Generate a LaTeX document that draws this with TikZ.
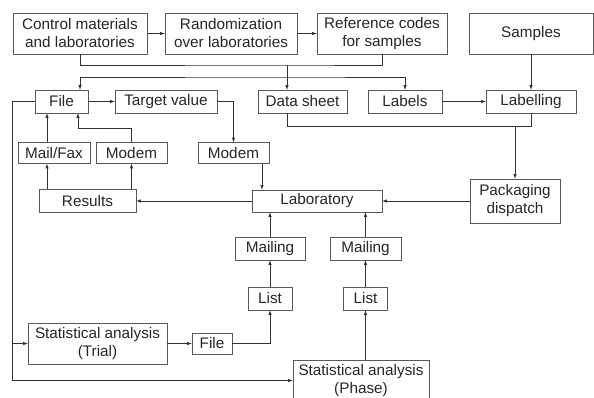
\documentclass[tikz,border=0pt]{standalone}
\usepackage{fontspec}
\setmainfont{Liberation Sans}
\usetikzlibrary{arrows}

\tikzset{
  box/.style={draw=black!65, line width=0.5pt, align=center, inner sep=0pt,
    text=black!85, font=\fontsize{15.3}{18}\selectfont},
  wire/.style={draw=black!80, line width=0.6pt},
}

\begin{document}
\begin{tikzpicture}[x=1pt,y=-1pt,>=latex]
\path[use as bounding box, clip] (0,0) rectangle (594,397);

% top row
\node[box, minimum width=134pt, minimum height=41pt] (ctrl) at (80,33.5) {Control materials\\and laboratories};
\node[box, minimum width=132pt, minimum height=41pt] (rand) at (231,33.5) {Randomization\\over laboratories};
\node[box, minimum width=130pt, minimum height=41pt] (ref) at (382,33.5) {Reference codes\\for samples};
\node[box, minimum width=124pt, minimum height=41pt] (samp) at (531,33.5) {Samples};

% second row
\node[box, minimum width=53pt, minimum height=23pt] (file1) at (61.5,101.5) {File};
\node[box, minimum width=102pt, minimum height=23pt] (target) at (166,101.5) {Target value};
\node[box, minimum width=89pt, minimum height=23pt] (data) at (302.5,101.5) {Data sheet};
\node[box, minimum width=74pt, minimum height=23pt] (labels) at (405,101.5) {Labels};
\node[box, minimum width=90pt, minimum height=23pt] (labelling) at (531,101.5) {Labelling};

% transmission
\node[box, minimum width=72pt, minimum height=21pt] (mailfax) at (54,153) {Mail/Fax};
\node[box, minimum width=71pt, minimum height=21pt] (modemL) at (131.5,153) {Modem};
\node[box, minimum width=71pt, minimum height=21pt] (modemR) at (233.5,153) {Modem};

% laboratory row
\node[box, minimum width=97pt, minimum height=23pt] (results) at (87.5,201) {Results};
\node[box, minimum width=130pt, minimum height=22pt] (lab) at (317,201) {Laboratory};
\node[box, minimum width=90pt, minimum height=44pt] (pack) at (515,201) {Packaging\\dispatch};

% mailing and lists
\node[box, minimum width=70pt, minimum height=23pt] (mailL) at (270,248.5) {Mailing};
\node[box, minimum width=71pt, minimum height=23pt] (mailR) at (365.5,248.5) {Mailing};
\node[box, minimum width=44pt, minimum height=23pt] (listL) at (270,298.5) {List};
\node[box, minimum width=44pt, minimum height=23pt] (listR) at (365.5,298.5) {List};

% analysis
\node[box, minimum width=139pt, minimum height=41pt] (trial) at (97.5,343.5) {Statistical analysis\\(Trial)};
\node[box, minimum width=40pt, minimum height=21pt] (file2) at (212,343.5) {File};
\node[box, minimum width=136pt, minimum height=41pt] (phase) at (361,380.5) {Statistical analysis\\(Phase)};

\coordinate (b1) at (287,65);
\coordinate (b2) at (287,77);
\coordinate (b3) at (287,126);
\coordinate (lx) at (12,101.5);
\coordinate (c1) at (47,0);
\coordinate (c2) at (78,128);

% distribution
\draw[wire,->] (ctrl) -- (rand);
\draw[wire,->] (rand) -- (ref);
\draw[wire] (ctrl.south) |- (b1) -| (ref.south);
\draw[wire,->] (b1) -- (b1 |- data.north);
\draw[wire,<->] (file1.north -| ctrl.south) |- (b2) -| (labels.north);
\draw[wire,->] (file1) -- (target);
\draw[wire,->] (target.east) -| (modemR.north);
\draw[wire,->] (labels) -- (labelling);
\draw[wire,->] (samp) -- (labelling);
\draw[wire] (data.south -| b3) -- (b3) -| (labelling.south);
\draw[wire,->] (pack.north |- b3) -- (pack.north);
\draw[wire,->] (pack) -- (lab);
\draw[wire,->] (lab) -- (results);
\draw[wire,->] ([xshift=28.5pt]modemR.south) -- ([xshift=28.5pt]modemR.south |- lab.north);

% results back to file
\draw[wire,->] (results.north -| c1) -- (mailfax.south -| c1);
\draw[wire,->] (mailfax.north -| c1) -- (file1.south -| c1);
\draw[wire,->] (results.north -| modemL) -- (modemL.south);
\draw[wire,->] (modemL.north) |- (c2) -- (file1.south -| c2);

% lists to laboratory
\draw[wire,->] (mailL.north) -- (mailL.north |- lab.south);
\draw[wire,->] (listL.north) -- (mailL.south);
\draw[wire,->] (mailR.north) -- (mailR.north |- lab.south);
\draw[wire,->] (listR.north) -- (mailR.south);
\draw[wire,->] (phase.north -| listR) -- (listR.south);
\draw[wire,->] (trial) -- (file2);
\draw[wire,->] (file2.east) -| (listL.south);

% file to analysis
\draw[wire,->] (file1.west) -| (lx |- phase.west) -- (phase.west);
\draw[wire,->] (lx |- trial.west) -- (trial.west);

\end{tikzpicture}
\end{document}
